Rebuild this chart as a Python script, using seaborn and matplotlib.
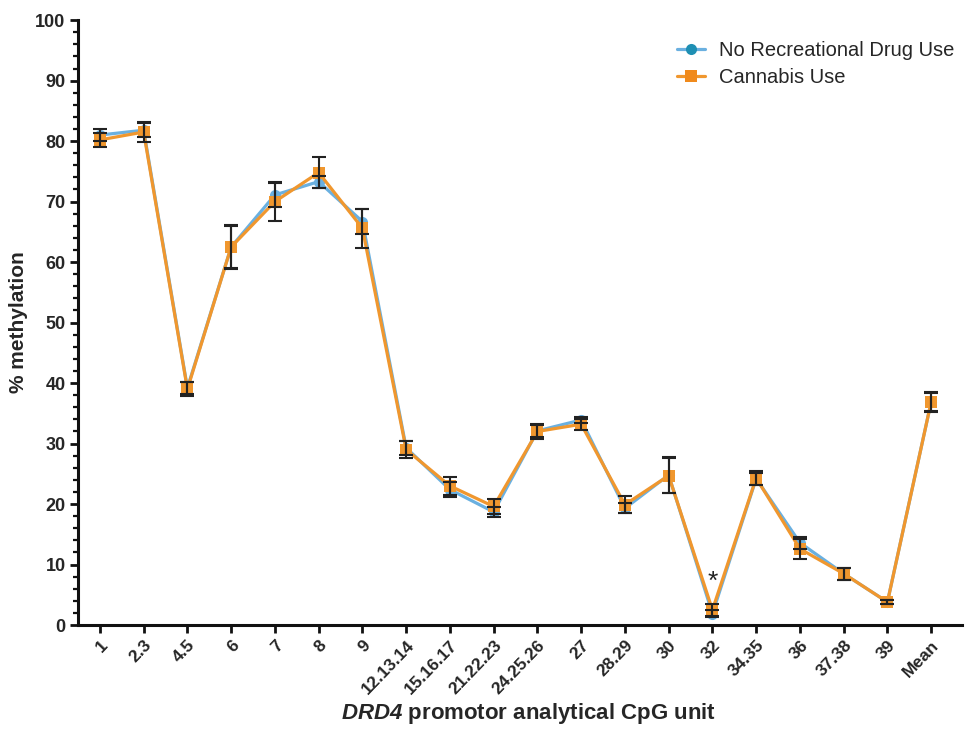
import numpy as np
import pandas as pd
import matplotlib
matplotlib.use("Agg")
import matplotlib.pyplot as plt
import seaborn as sns
from matplotlib.ticker import MultipleLocator

categories = ["1", "2.3", "4.5", "6", "7", "8", "9", "12.13.14", "15.16.17",
              "21.22.23", "24.25.26", "27", "28.29", "30", "32", "34.35",
              "36", "37.38", "39", "Mean"]
no_drug = [81.0, 81.8, 39.2, 62.5, 71.1, 73.3, 66.7, 29.3, 22.4, 18.7, 32.1, 33.9,
           19.3, 24.8, 1.9, 24.2, 13.6, 8.5, 3.8, 36.9]
no_drug_err = [1.0, 1.2, 1.0, 3.5, 2.0, 1.0, 2.0, 1.2, 1.3, 0.8, 1.0, 0.5,
               0.8, 2.9, 0.6, 1.0, 1.0, 1.0, 0.4, 1.5]
cannabis = [80.2, 81.5, 39.0, 62.5, 70.0, 74.8, 65.6, 29.0, 23.0, 19.6, 32.0, 33.2,
            19.9, 24.7, 2.5, 24.3, 12.6, 8.5, 3.8, 36.9]
cannabis_err = [1.2, 1.6, 1.2, 3.6, 3.2, 2.5, 3.2, 1.4, 1.5, 1.3, 1.2, 0.9,
                1.4, 2.9, 1.0, 1.2, 1.7, 1.0, 0.4, 1.7]
series_names = ["No Recreational Drug Use", "Cannabis Use"]
sig_index = 14

sns.set_theme(style="ticks")
plt.rcParams["font.family"] = ["Liberation Sans", "DejaVu Sans"]
plt.rcParams["mathtext.fontset"] = "custom"
plt.rcParams["mathtext.it"] = "Liberation Sans:italic:bold"
plt.rcParams["mathtext.rm"] = "Liberation Sans:italic:bold"
plt.rcParams["mathtext.bf"] = "Liberation Sans:italic:bold"

pos = np.arange(len(categories))
df = pd.concat([
    pd.DataFrame({"pos": pos, "value": no_drug, "err": no_drug_err, "group": series_names[0]}),
    pd.DataFrame({"pos": pos, "value": cannabis, "err": cannabis_err, "group": series_names[1]}),
])

colors = {series_names[0]: "#6AB0E0", series_names[1]: "#F0972E"}
mcolors = {series_names[0]: "#1E8FB3", series_names[1]: "#F08A1C"}

fig = plt.figure(figsize=(9.68, 7.45), dpi=100)
ax = fig.add_axes([0.0806, 0.161, 0.913, 0.812])

for name, z in [(series_names[0], 2), (series_names[1], 3)]:
    sub = df[df["group"] == name]
    ax.errorbar(sub["pos"], sub["value"], yerr=sub["err"], fmt="none",
                ecolor="#222222", elinewidth=1.5, capsize=5, capthick=1.5, zorder=z + 2)

sns.lineplot(data=df, x="pos", y="value", hue="group", style="group",
             markers={series_names[0]: "o", series_names[1]: "s"}, dashes=False,
             palette=colors, ax=ax, linewidth=2.3, markersize=8,
             markeredgewidth=0, legend=True, zorder=3)

for line, name in zip(ax.lines[:2], series_names):
    line.set_markerfacecolor(mcolors[name])

ax.text(sig_index, cannabis[sig_index] + cannabis_err[sig_index] + 3.6, "*",
        ha="center", va="center", fontsize=19, color="#222222")

ax.set_xlim(-0.5, 19.7)
ax.set_ylim(0, 100)
ax.yaxis.set_major_locator(MultipleLocator(10))
ax.yaxis.set_minor_locator(MultipleLocator(2))
ax.set_xticks(pos)
ax.set_xticklabels(categories, rotation=46, ha="right", rotation_mode="anchor",
                   fontsize=12.5, fontweight="bold")
for t in ax.get_yticklabels():
    t.set_fontweight("bold")
    t.set_fontsize(13)
ax.tick_params(axis="both", which="major", length=6, width=2, color="#111111", pad=3)
ax.tick_params(axis="y", which="minor", length=3.5, width=1.6, color="#111111")
for s in ["left", "bottom"]:
    ax.spines[s].set_linewidth(2.2)
    ax.spines[s].set_color("#111111")
sns.despine(ax=ax)

ax.set_ylabel("% methylation", fontsize=15, fontweight="bold", labelpad=5)
ax.set_xlabel(r"$DRD4$ promotor analytical CpG unit", fontsize=16, fontweight="bold", labelpad=0)
ax.xaxis.set_label_coords(0.51, -0.125)

handles, labels = ax.get_legend_handles_labels()
leg = ax.legend(handles, labels, loc="upper right", bbox_to_anchor=(1.012, 0.995),
                frameon=False, fontsize=14.5, handlelength=1.4, handletextpad=0.7,
                labelspacing=0.4)
for h, name in zip(leg.legend_handles, series_names):
    h.set_markerfacecolor(mcolors[name])
    h.set_markeredgewidth(0)

fig.savefig("out.png", dpi=100)
